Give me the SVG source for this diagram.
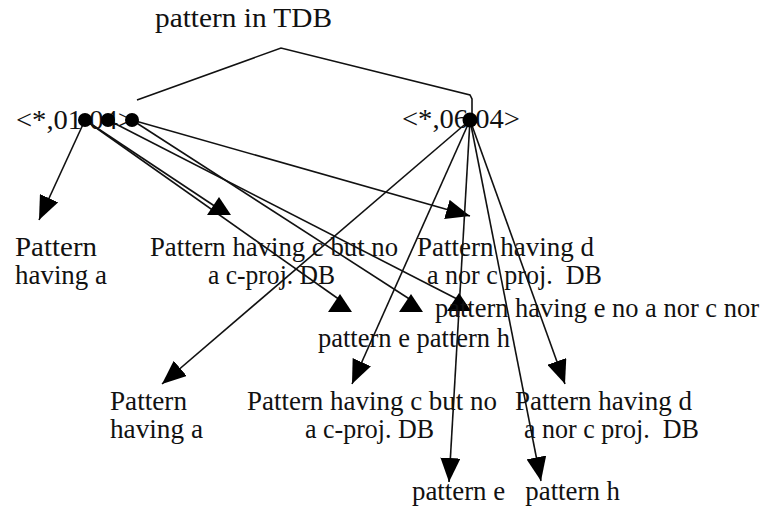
<svg xmlns="http://www.w3.org/2000/svg" xmlns:xlink="http://www.w3.org/1999/xlink" width="774" height="508" viewBox="0 0 774 508">
<style>
  text { font-family: "Liberation Serif", "Times New Roman", serif; font-size: 27px; fill: #111; }
  .ln { stroke: #111; stroke-width: 1.6; fill: none; }
  .arr { marker-end: url(#ah); }
  .dot { fill: #000; }
  .tri { fill: #000; }
</style>
<defs>
  <marker id="ah" viewBox="0 0 24 20" refX="24" refY="10" markerWidth="24" markerHeight="20" markerUnits="userSpaceOnUse" orient="auto">
    <path d="M0,0 L24,10 L0,20 z" fill="#000"/>
  </marker>
  <path id="up" d="M0,-10 L12,8 L-12,8 z"/>
</defs>
<rect width="774" height="508" fill="#fff"/>

<g id="connectors">
  <polyline class="ln" points="137,100 281,48 470,95 472,99 472,114"/>
  <line class="ln arr" x1="85" y1="120" x2="39" y2="220"/>
  <line class="ln" x1="85" y1="120" x2="216" y2="207"/>
  <line class="ln" x1="85" y1="120" x2="340" y2="300"/>
  <line class="ln" x1="108" y1="120" x2="459" y2="300"/>
  <line class="ln" x1="132" y1="120" x2="411" y2="300"/>
  <line class="ln arr" x1="132" y1="120" x2="470" y2="216"/>
  <line class="ln arr" x1="470" y1="120" x2="162" y2="384"/>
  <line class="ln arr" x1="470" y1="120" x2="352" y2="384"/>
  <line class="ln arr" x1="470" y1="120" x2="449" y2="482"/>
  <line class="ln arr" x1="470" y1="120" x2="541" y2="481"/>
  <line class="ln arr" x1="470" y1="120" x2="565" y2="384"/>
  <use xlink:href="#up" class="tri" x="219" y="207"/>
  <use xlink:href="#up" class="tri" x="340" y="304"/>
  <use xlink:href="#up" class="tri" x="411" y="304"/>
  <use xlink:href="#up" class="tri" x="459" y="303"/>
</g>

<g id="n-tdb">
  <text x="155" y="27" textLength="177" lengthAdjust="spacingAndGlyphs">pattern in TDB</text>
</g>

<g id="n-left">
  <text x="16" y="129" textLength="118" lengthAdjust="spacingAndGlyphs" xml:space="preserve">&lt;*,01 04&gt;</text>
  <circle class="dot" cx="85" cy="120" r="7"/>
  <circle class="dot" cx="108" cy="120" r="7"/>
  <circle class="dot" cx="132" cy="120" r="7"/>
</g>

<g id="n-right">
  <text x="402" y="128" textLength="118" lengthAdjust="spacingAndGlyphs" xml:space="preserve">&lt;*,06 04&gt;</text>
  <circle class="dot" cx="470" cy="120" r="7.5"/>
</g>

<g id="n-a1">
  <text x="15" y="256" textLength="82" lengthAdjust="spacingAndGlyphs">Pattern</text>
  <text x="15" y="284" textLength="92" lengthAdjust="spacingAndGlyphs">having a</text>
</g>
<g id="n-c1">
  <text x="150" y="256" textLength="248" lengthAdjust="spacingAndGlyphs">Pattern having c but no</text>
  <text x="208" y="284" textLength="127" lengthAdjust="spacingAndGlyphs">a c-proj. DB</text>
</g>
<g id="n-d1">
  <text x="417" y="256" textLength="177" lengthAdjust="spacingAndGlyphs">Pattern having d</text>
  <text x="427" y="284" textLength="175" lengthAdjust="spacingAndGlyphs" xml:space="preserve">a nor c proj.  DB</text>
</g>
<g id="n-e1">
  <text x="435" y="317" textLength="324" lengthAdjust="spacingAndGlyphs">pattern having e no a nor c nor</text>
</g>
<g id="n-eh1">
  <text x="318" y="347" textLength="192" lengthAdjust="spacingAndGlyphs">pattern e pattern h</text>
</g>

<g id="n-a2">
  <text x="110" y="410" textLength="77" lengthAdjust="spacingAndGlyphs">Pattern</text>
  <text x="110" y="438" textLength="93" lengthAdjust="spacingAndGlyphs">having a</text>
</g>
<g id="n-c2">
  <text x="247" y="410" textLength="250" lengthAdjust="spacingAndGlyphs">Pattern having c but no</text>
  <text x="305" y="438" textLength="129" lengthAdjust="spacingAndGlyphs">a c-proj. DB</text>
</g>
<g id="n-d2">
  <text x="515" y="410" textLength="177" lengthAdjust="spacingAndGlyphs">Pattern having d</text>
  <text x="524" y="438" textLength="175" lengthAdjust="spacingAndGlyphs" xml:space="preserve">a nor c proj.  DB</text>
</g>
<g id="n-eh2">
  <text x="412" y="500" textLength="208" lengthAdjust="spacingAndGlyphs" xml:space="preserve">pattern e   pattern h</text>
</g>
</svg>
